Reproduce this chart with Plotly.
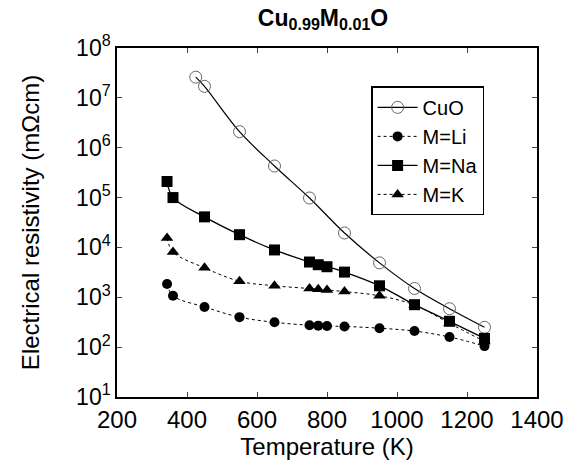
import plotly.graph_objects as go

# Data
T_cuo = [425, 450, 550, 650, 750, 850, 950, 1050, 1150, 1250]
R_cuo = [2.6e7, 1.7e7, 2.1e6, 4.3e5, 9.8e4, 1.95e4, 4.9e3, 1.5e3, 590, 250]

T_li = [343, 360, 450, 550, 650, 750, 775, 800, 850, 950, 1050, 1150, 1250]
R_li = [1.85e3, 1.07e3, 640, 400, 315, 275, 270, 265, 260, 240, 210, 160, 105]

T_na = [343, 360, 450, 550, 650, 750, 775, 800, 850, 950, 1050, 1150, 1250]
R_na = [2.1e5, 1.0e5, 4.1e4, 1.8e4, 8.9e3, 5.1e3, 4.5e3, 4.1e3, 3.2e3, 1.7e3, 710, 330, 150]

T_k = [343, 360, 450, 550, 650, 750, 775, 800, 850, 950, 1050, 1150, 1250]
R_k = [1.55e4, 8.1e3, 3.9e3, 2.1e3, 1.7e3, 1.5e3, 1.45e3, 1.4e3, 1.3e3, 1.07e3, 700, 300, 130]

x_ticks = [200, 400, 600, 800, 1000, 1200, 1400]
y_exps = [1, 2, 3, 4, 5, 6, 7, 8]

FONT = "Liberation Sans, Arial, sans-serif"

fig = go.Figure()
fig.add_trace(go.Scatter(
    x=T_cuo, y=R_cuo, name="CuO", mode="lines+markers",
    line=dict(color="black", width=1.2, shape="spline"),
    marker=dict(symbol="circle-open", size=12, color="#666666", line=dict(width=1))))
fig.add_trace(go.Scatter(
    x=T_li, y=R_li, name="M=Li", mode="lines+markers",
    line=dict(color="black", width=1, dash="dot", shape="spline"),
    marker=dict(symbol="circle", size=10, color="black")))
fig.add_trace(go.Scatter(
    x=T_na, y=R_na, name="M=Na", mode="lines+markers",
    line=dict(color="black", width=1.3, shape="spline"),
    marker=dict(symbol="square", size=11, color="black")))
fig.add_trace(go.Scatter(
    x=T_k, y=R_k, name="M=K", mode="lines+markers",
    line=dict(color="black", width=1, dash="dot", shape="spline"),
    marker=dict(symbol="triangle-up", size=11, color="black")))

fig.update_layout(
    width=580, height=461,
    margin=dict(l=117, r=43, t=48, b=62),
    paper_bgcolor="white", plot_bgcolor="white",
    font=dict(family=FONT, size=20, color="black"),
    title=dict(text="<b>Cu<sub>0.99</sub>M<sub>0.01</sub>O</b>", x=0.557, xanchor="center",
               y=0.962, yanchor="middle", font=dict(size=23)),
    showlegend=True,
    legend=dict(x=0.605, y=0.89, xanchor="left", yanchor="top",
                bordercolor="black", borderwidth=1.5, bgcolor="white",
                font=dict(size=20), tracegroupgap=0, itemwidth=40),
)
fig.update_xaxes(
    range=[200, 1400], tickvals=x_ticks, ticktext=[str(v) for v in x_ticks],
    ticks="inside", ticklen=5, mirror="ticks", showline=True, linecolor="black", linewidth=1.5,
    showgrid=False, zeroline=False, title=dict(text="Temperature (K)", standoff=0),
    tickfont=dict(size=24))
fig.update_yaxes(
    type="log", range=[1, 8], tickvals=[10 ** e for e in y_exps],
    ticktext=[f"10<sup>{e}</sup>" for e in y_exps],
    ticks="inside", ticklen=5, mirror="ticks", showline=True, linecolor="black", linewidth=1.5,
    showgrid=False, zeroline=False,
    title=dict(text="Electrical resistivity (m\u03a9cm)", standoff=30),
    tickfont=dict(size=23))

fig.write_html("out.html")
